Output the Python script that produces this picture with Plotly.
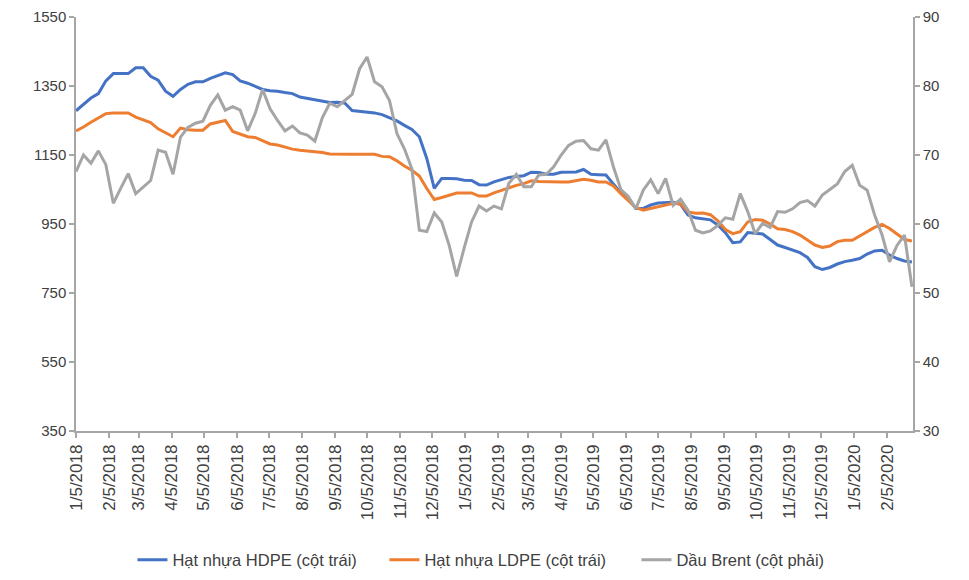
import pandas as pd
import plotly.graph_objects as go

# weekly observation dates (Fridays) from 5 Jan 2018 to 28 Feb 2020
dates = pd.date_range("2018-01-05", periods=113, freq="7D")

hdpe = [1278, 1297, 1315, 1328, 1365, 1386, 1386, 1386, 1403, 1403,
        1378, 1367, 1335, 1320, 1340, 1355, 1362, 1362, 1372, 1381,
        1388, 1383, 1365, 1358, 1350, 1340, 1336, 1335, 1331, 1328,
        1318, 1314, 1311, 1306, 1302, 1303, 1301, 1279, 1277, 1273,
        1272, 1267, 1258, 1249, 1236, 1224, 1203, 1140, 1053, 1082,
        1082, 1081, 1077, 1076, 1064, 1063, 1072, 1079, 1085, 1088,
        1090, 1100, 1099, 1094, 1094, 1100, 1101, 1101, 1108, 1094,
        1093, 1092, 1066, 1040, 1024, 995, 995, 1005, 1011, 1013,
        1013, 1007, 976, 968, 965, 962, 947, 925, 896, 898,
        925, 923, 921, 905, 889, 882, 874, 867, 853, 826,
        818, 824, 834, 841, 845, 850, 863, 872, 874, 860,
        850, 843, 840]

ldpe = [1220, 1231, 1245, 1258, 1270, 1272, 1272, 1272, 1260, 1252,
        1244, 1226, 1214, 1203, 1228, 1223, 1222, 1222, 1240, 1246,
        1250, 1218, 1210, 1203, 1201, 1192, 1182, 1179, 1173, 1167,
        1164, 1162, 1161, 1157, 1153, 1152, 1152, 1152, 1152, 1152,
        1152, 1146, 1145, 1133, 1118, 1106, 1089, 1053, 1021, 1027,
        1034, 1040, 1040, 1040, 1031, 1031, 1040, 1048, 1056, 1062,
        1067, 1075, 1073, 1072, 1072, 1072, 1072, 1077, 1080, 1077,
        1072, 1072, 1060, 1038, 1017, 998, 990, 995, 1000, 1005,
        1010, 1008, 985, 981, 982, 977, 959, 934, 922, 928,
        956, 963, 961, 950, 936, 934, 928, 918, 903, 889,
        882, 886, 899, 903, 903, 915, 928, 940, 949, 937,
        921, 905, 901]

brent = [67.6, 70.0, 68.8, 70.6, 68.6, 63.0, 65.2, 67.3, 64.4, 65.3,
         66.3, 70.7, 70.4, 67.2, 72.6, 74.0, 74.6, 74.9, 77.2, 78.7,
         76.5, 77.0, 76.5, 73.5, 76.0, 79.5, 76.7, 75.0, 73.5, 74.2,
         73.2, 72.9, 72.0, 75.4, 77.5, 77.0, 77.9, 78.8, 82.5, 84.2,
         80.6, 79.9, 77.9, 73.1, 70.9, 68.0, 59.1, 58.9, 61.6, 60.3,
         56.9, 52.4, 56.5, 60.3, 62.6, 61.9, 62.6, 62.2, 65.9, 67.2,
         65.4, 65.4, 67.1, 67.2, 68.3, 70.0, 71.4, 72.0, 72.1, 70.9,
         70.7, 72.2, 68.3, 65.0, 64.0, 62.2, 64.9, 66.4, 64.4, 66.6,
         62.7, 63.6, 62.0, 59.1, 58.7, 59.0, 59.8, 60.9, 60.7, 64.4,
         61.8, 58.6, 60.1, 59.5, 61.8, 61.7, 62.2, 63.1, 63.4, 62.6,
         64.2, 65.0, 65.8, 67.6, 68.5, 65.6, 64.9, 61.3, 58.4, 54.5,
         56.9, 58.4, 50.9]

series_names = ["Hạt nhựa HDPE (cột trái)", "Hạt nhựa LDPE (cột trái)", "Dầu Brent (cột phải)"]
series_colors = ["#4472C4", "#ED7D31", "#A5A5A5"]

# monthly tick marks (5th of each month)
tick_dates = pd.date_range("2018-01-05", periods=26, freq=pd.DateOffset(months=1))
tick_labels = [f"{d.month}/{d.day}/{d.year}" for d in tick_dates]

left_ticks = [350, 550, 750, 950, 1150, 1350, 1550]
right_ticks = [30, 40, 50, 60, 70, 80, 90]

fig = go.Figure()
fig.add_trace(go.Scatter(x=dates, y=hdpe, name=series_names[0], mode="lines",
                         line=dict(color=series_colors[0], width=3)))
fig.add_trace(go.Scatter(x=dates, y=ldpe, name=series_names[1], mode="lines",
                         line=dict(color=series_colors[1], width=3)))
fig.add_trace(go.Scatter(x=dates, y=brent, name=series_names[2], mode="lines", yaxis="y2",
                         line=dict(color=series_colors[2], width=3)))

axis_col = "#A6A6A6"
font_family = "Liberation Sans, Arial, sans-serif"
tick_font = dict(family=font_family, size=15, color="#404040")

fig.update_layout(
    width=961, height=572,
    margin=dict(l=68, r=56, t=9, b=149, autoexpand=False),
    paper_bgcolor="white", plot_bgcolor="white",
    showlegend=True,
    legend=dict(orientation="h", xref="container", yref="container",
                x=0.1295, xanchor="left", y=0.035, yanchor="middle",
                font=dict(family=font_family, size=16.5, color="#404040"),
                itemwidth=30, tracegroupgap=0,
                entrywidth=207, entrywidthmode="pixels"),
    xaxis=dict(type="date", range=["2018-01-05", "2020-02-29"], automargin=False,
               tickvals=list(tick_dates), ticktext=tick_labels, tickangle=-90,
               showgrid=False, zeroline=False, showline=True, linecolor=axis_col, linewidth=1.5,
               ticks="outside", ticklen=5, tickcolor=axis_col, tickwidth=1.5,
               tickfont=dict(family=font_family, size=17, color="#404040")),
    yaxis=dict(range=[350, 1550], tickvals=left_ticks, showgrid=False, zeroline=False,
               automargin=False,
               showline=True, linecolor=axis_col, linewidth=1.5,
               ticks="outside", ticklen=5, tickcolor=axis_col, tickwidth=1.5,
               tickfont=tick_font),
    yaxis2=dict(range=[30, 90], tickvals=right_ticks, overlaying="y", side="right",
                automargin=False,
                showgrid=False, zeroline=False, showline=True, linecolor=axis_col, linewidth=1.5,
                ticks="outside", ticklen=5, tickcolor=axis_col, tickwidth=1.5,
                tickfont=tick_font),
)

fig.write_html("out.html")
